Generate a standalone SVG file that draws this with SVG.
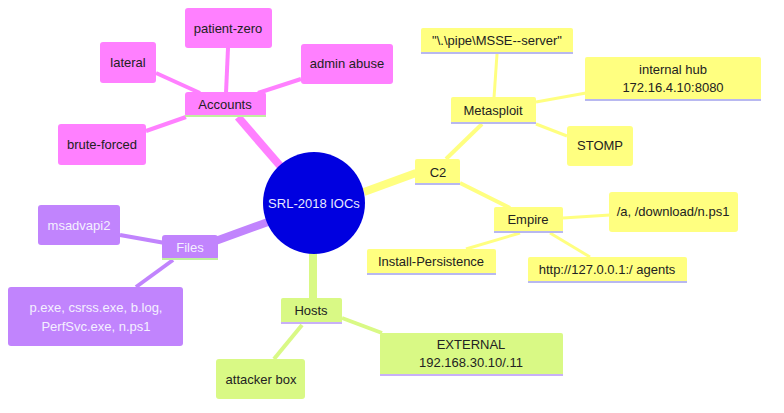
<svg xmlns="http://www.w3.org/2000/svg" width="784" height="413" viewBox="0 0 784 413">
<style>
text{font-family:"Liberation Sans",Arial,sans-serif;font-size:13px;text-anchor:middle;fill:#222}
.p rect.b{fill:#ff80ff}.f rect.b{fill:#c184fd}.h rect.b{fill:#d9f985}.y rect.b{fill:#ffff80}
.f text{fill:#f4f0ff}
.ep{stroke:#ff80ff}.ef{stroke:#c184fd}.eh{stroke:#d9f985}.ey{stroke:#ffff80}
</style>
<g id="connectors" fill="none" stroke-linecap="butt">
<line class="ep" x1="282" y1="168" x2="238" y2="117" stroke-width="8"/>
<line class="ef" x1="268" y1="222" x2="210" y2="243" stroke-width="8"/>
<line class="eh" x1="313" y1="253" x2="313" y2="300" stroke-width="8"/>
<line class="ey" x1="364" y1="192" x2="416" y2="173" stroke-width="8"/>
<line class="ep" x1="200" y1="93" x2="156" y2="73" stroke-width="4"/>
<line class="ep" x1="226" y1="93" x2="228" y2="48" stroke-width="4"/>
<line class="ep" x1="258" y1="93" x2="301" y2="79" stroke-width="4"/>
<line class="ep" x1="186" y1="117" x2="146" y2="131" stroke-width="4"/>
<line class="ef" x1="165" y1="243" x2="120" y2="235" stroke-width="4"/>
<line class="ef" x1="173" y1="260" x2="136" y2="287" stroke-width="4"/>
<line class="eh" x1="302" y1="325" x2="274" y2="359" stroke-width="4"/>
<line class="eh" x1="342" y1="318" x2="382" y2="333" stroke-width="4"/>
<line class="ey" x1="446" y1="159" x2="482" y2="124" stroke-width="4"/>
<line class="ey" x1="460" y1="183" x2="510" y2="208" stroke-width="4"/>
<line class="ey" x1="494" y1="98" x2="497" y2="54" stroke-width="3"/>
<line class="ey" x1="536" y1="102" x2="586" y2="93" stroke-width="3"/>
<line class="ey" x1="536" y1="124" x2="567" y2="136" stroke-width="3"/>
<line class="ey" x1="563" y1="218" x2="610" y2="215" stroke-width="3"/>
<line class="ey" x1="520" y1="233" x2="466" y2="249" stroke-width="3"/>
<line class="ey" x1="550" y1="233" x2="590" y2="257" stroke-width="3"/>
</g>
<g id="root"><circle cx="314" cy="203" r="51" fill="#0000e0"/><text x="314" y="208" style="fill:#e8e8ff">SRL-2018 IOCs</text></g>
<g id="accounts" class="p"><rect class="b" x="185" y="92" width="81" height="25" rx="3"/><rect x="185" y="115" width="81" height="2" fill="#c0f0a0"/><text x="225" y="109">Accounts</text></g>
<g id="lateral" class="p"><rect class="b" x="100" y="42" width="56" height="41" rx="3"/><text x="128" y="67">lateral</text></g>
<g id="patient-zero" class="p"><rect class="b" x="185" y="8" width="87" height="40" rx="3"/><text x="228" y="33">patient-zero</text></g>
<g id="admin-abuse" class="p"><rect class="b" x="301" y="44" width="92" height="40" rx="3"/><text x="347" y="68">admin abuse</text></g>
<g id="brute-forced" class="p"><rect class="b" x="58" y="124" width="88" height="41" rx="3"/><text x="102" y="149">brute-forced</text></g>
<g id="files" class="f"><rect class="b" x="162" y="235" width="56" height="25" rx="3"/><rect x="162" y="258" width="56" height="2" fill="#c0f0a0"/><text x="190" y="252">Files</text></g>
<g id="msadvapi2" class="f"><rect class="b" x="38" y="205" width="82" height="40" rx="3"/><text x="79" y="230">msadvapi2</text></g>
<g id="pexe" class="f"><rect class="b" x="8" y="287" width="175" height="59" rx="3"/><text x="96" y="312">p.exe, csrss.exe, b.log,</text><text x="96" y="331">PerfSvc.exe, n.ps1</text></g>
<g id="hosts" class="h"><rect class="b" x="281" y="298" width="61" height="26" rx="2"/><rect x="281" y="322" width="61" height="2" fill="#c8b0f8"/><text x="311" y="315">Hosts</text></g>
<g id="attacker-box" class="h"><rect class="b" x="216" y="359" width="89" height="40" rx="3"/><text x="261" y="384">attacker box</text></g>
<g id="external" class="h"><rect class="b" x="380" y="333" width="183" height="43" rx="2"/><rect x="380" y="374" width="183" height="2" fill="#c8b0f8"/><text x="471" y="349">EXTERNAL</text><text x="471" y="367">192.168.30.10/.11</text></g>
<g id="c2" class="y"><rect class="b" x="415" y="159" width="45" height="26" rx="2"/><rect x="415" y="183" width="45" height="2" fill="#b8b8f0"/><text x="438" y="177">C2</text></g>
<g id="metasploit" class="y"><rect class="b" x="451" y="97" width="85" height="27" rx="2"/><rect x="451" y="122" width="85" height="2" fill="#b8b8f0"/><text x="493" y="115">Metasploit</text></g>
<g id="pipe" class="y"><rect class="b" x="421" y="28" width="152" height="26" rx="2"/><rect x="421" y="52" width="152" height="2" fill="#b8b8f0"/><text x="497" y="45">"\.\pipe\MSSE--server"</text></g>
<g id="internal-hub" class="y"><rect class="b" x="585" y="57" width="176" height="44" rx="2"/><rect x="585" y="99" width="176" height="2" fill="#b8b8f0"/><text x="673" y="74">internal hub</text><text x="673" y="92">172.16.4.10:8080</text></g>
<g id="stomp" class="y"><rect class="b" x="567" y="126" width="66" height="40" rx="3"/><text x="600" y="150">STOMP</text></g>
<g id="empire" class="y"><rect class="b" x="494" y="207" width="69" height="26" rx="2"/><rect x="494" y="231" width="69" height="2" fill="#b8b8f0"/><text x="528" y="224">Empire</text></g>
<g id="download" class="y"><rect class="b" x="609" y="192" width="129" height="40" rx="3"/><text x="673" y="216">/a, /download/n.ps1</text></g>
<g id="install" class="y"><rect class="b" x="367" y="249" width="129" height="26" rx="2"/><rect x="367" y="273" width="129" height="2" fill="#b8b8f0"/><text x="431" y="266">Install-Persistence</text></g>
<g id="http" class="y"><rect class="b" x="528" y="257" width="159" height="26" rx="2"/><rect x="528" y="281" width="159" height="2" fill="#b8b8f0"/><text x="607" y="274">http://127.0.0.1:/ agents</text></g>
</svg>
